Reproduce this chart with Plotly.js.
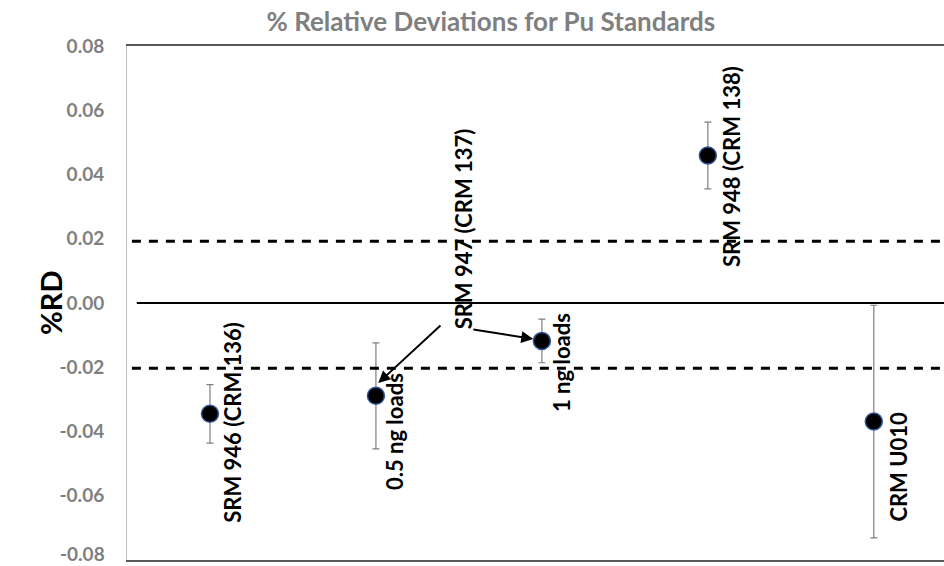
<!DOCTYPE html>
<html>
<head>
<meta charset="utf-8">
<script src="https://cdn.plot.ly/plotly-3.0.1.min.js"></script>
<style>html,body{margin:0;padding:0;background:#fff;}#chart{width:944px;height:566px;}</style>
</head>
<body>
<div id="chart"></div>
<script>
// Data
const positions = [1, 2, 3, 4, 5];
const pointLabels = ["SRM 946 (CRM 136)", "0.5 ng loads", "1 ng loads", "SRM 948 (CRM 138)", "CRM U010"];
const rdValues = [-0.0345, -0.0289, -0.0118, 0.0459, -0.0369];
const rdErrors = [0.0091, 0.0165, 0.0068, 0.0104, 0.0362];
const limitLines = [0.0192, -0.0203];
const yTicks = [-0.08, -0.06, -0.04, -0.02, 0.00, 0.02, 0.04, 0.06, 0.08];
const yTickText = ["-0.08", "-0.06", "-0.04", "-0.02", "0.00", "0.02", "0.04", "0.06", "0.08"];
const groupLabel = "SRM 947 (CRM 137)";

const FONT = "Lato, 'Open Sans', sans-serif";
const TICKFONT = {family: FONT, size: 19, color: '#7f7f7f', weight: 'bold'};

const trace = {
  x: positions,
  y: rdValues,
  type: 'scatter',
  mode: 'markers',
  marker: {color: '#000000', size: 17, line: {color: '#2f5597', width: 1.5}},
  error_y: {type: 'data', array: rdErrors, visible: true, color: '#7f7f7f', thickness: 1.2, width: 3.5},
  hoverinfo: 'skip'
};

// label placement (pixel shifts / positions relative to points)
const labelShift = [23, 18, 19, 23, 25];
const labelY = [-0.0370, -0.0399, -0.0184, 0.0426, -0.0510];

const annotations = pointLabels.map((t, i) => ({
  x: positions[i], y: labelY[i], xref: 'x', yref: 'y',
  xshift: labelShift[i], text: t, showarrow: false, textangle: -90,
  font: {family: FONT, size: 22, color: '#000000', weight: 'bold'},
  xanchor: 'center', yanchor: 'middle'
}));

annotations.push({
  x: 2.526, y: 0.0230, xref: 'x', yref: 'y', text: groupLabel, showarrow: false,
  textangle: -90, font: {family: FONT, size: 22, color: '#000000', weight: 'bold'},
  xanchor: 'center', yanchor: 'middle'
});
// arrows from the group label to the two SRM 947 points
annotations.push({
  x: 2.014, y: -0.0249, ax: 2.398, ay: -0.0066, xref: 'x', yref: 'y', axref: 'x', ayref: 'y',
  text: '', showarrow: true, arrowhead: 2, arrowsize: 1.2, arrowwidth: 2, arrowcolor: '#000000'
});
annotations.push({
  x: 2.948, y: -0.0112, ax: 2.578, ay: -0.0082, xref: 'x', yref: 'y', axref: 'x', ayref: 'y',
  text: '', showarrow: true, arrowhead: 2, arrowsize: 1.2, arrowwidth: 2, arrowcolor: '#000000'
});
// bottom tick label, nudged up just enough to stay inside the page
annotations.push({
  x: 0, y: yTicks[0], xref: 'paper', yref: 'y', xanchor: 'right', yanchor: 'middle',
  xshift: -20, yshift: 6, text: yTickText[0], showarrow: false, font: TICKFONT
});
// y-axis title
annotations.push({
  x: 0, y: 0, xref: 'paper', yref: 'y', xanchor: 'center', yanchor: 'middle',
  xshift: -77, text: '%RD', showarrow: false, textangle: -90,
  font: {family: FONT, size: 29, color: '#000000', weight: 'bold'}
});

const shapes = [
  {type: 'line', xref: 'paper', yref: 'y', x0: 0.012, x1: 1, y0: 0, y1: 0,
   line: {color: '#000000', width: 2}},
  ...limitLines.map(v => ({type: 'line', xref: 'paper', yref: 'y', x0: 0.006, x1: 1, y0: v, y1: v,
   line: {color: '#000000', width: 3, dash: '9px,8px'}}))
];

const layout = {
  width: 944, height: 566,
  margin: {l: 127, r: 0, t: 46, b: 6},
  paper_bgcolor: '#ffffff', plot_bgcolor: '#ffffff',
  showlegend: false,
  title: {text: '% Relative Deviations for Pu Standards', x: 0.52, xanchor: 'center',
          y: 0.962, yref: 'container', yanchor: 'middle',
          font: {family: FONT, size: 26, color: '#7f7f7f', weight: 'bold'}},
  xaxis: {range: [0.5, 5.423], showticklabels: false, showgrid: false, zeroline: false,
          showline: true, mirror: true, linecolor: '#595959', linewidth: 2, ticks: ''},
  yaxis: {range: [-0.08001, 0.08001], tickvals: yTicks.slice(1), ticktext: yTickText.slice(1),
          showgrid: false, zeroline: false,
          showline: true, linecolor: '#bfbfbf', linewidth: 1, ticks: 'outside', ticklen: 18,
          tickcolor: 'rgba(0,0,0,0)', tickfont: TICKFONT},
  shapes: shapes,
  annotations: annotations
};

Plotly.newPlot('chart', [trace], layout, {displayModeBar: false, staticPlot: true});
</script>
</body>
</html>
